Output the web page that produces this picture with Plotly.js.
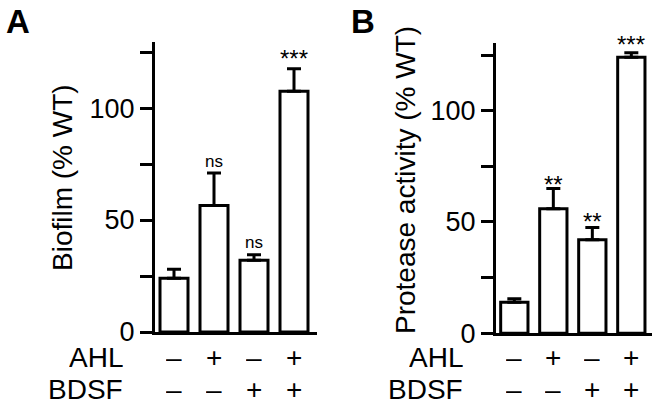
<!DOCTYPE html>
<html>
<head>
<meta charset="utf-8">
<script src="https://cdn.plot.ly/plotly-3.0.1.min.js"></script>
<style>html,body{margin:0;padding:0;background:#fff;}#chart{width:662px;height:408px;}</style>
</head>
<body>
<div id="chart"></div>
<script>
// ---- data ----
const groups = ['g1', 'g2', 'g3', 'g4'];
const ahl = ['\u2013', '+', '\u2013', '+'];
const bdsf = ['\u2013', '\u2013', '+', '+'];
const biofilm = [24, 56.5, 32, 107.5];
const biofilmErr = [4, 14.5, 2.5, 10];
const biofilmSig = ['', 'ns', 'ns', '***'];
const protease = [14, 56, 42, 124];
const proteaseErr = [1.5, 9, 5.5, 2];
const proteaseSig = ['', '**', '**', '***'];
const yTicks = [0, 25, 50, 75, 100, 125];
const yTickText = ['0', '', '50', '', '100', ''];

const FONT = 'Liberation Sans, Arial, sans-serif';
const W = 662, H = 408;
const px = v => v / W;
const py = v => (H - v) / H;

function barTrace(y, err, xa, ya) {
  return {
    type: 'bar', x: groups, y: y, xaxis: xa, yaxis: ya,
    width: 0.7,
    marker: {color: '#ffffff', line: {color: '#000000', width: 3}},
    error_y: {type: 'data', symmetric: false, array: err, arrayminus: err.map(() => 0),
              color: '#000000', thickness: 3, width: 7},
    showlegend: false, hoverinfo: 'skip'
  };
}

const yax = (domain, range) => ({
  domain: domain, range: range, showline: true, linewidth: 3, linecolor: '#000',
  ticks: 'outside', ticklen: 12, tickwidth: 3, tickcolor: '#000',
  tickvals: yTicks, ticktext: yTickText, showgrid: false, zeroline: false,
  tickfont: {family: FONT, size: 27, color: '#000'}, ticklabelstandoff: 0, fixedrange: true
});
const xax = (domain, range) => ({
  domain: domain, range: range, type: 'category', showline: true, linewidth: 3, linecolor: '#000',
  ticks: '', showticklabels: false, showgrid: false, zeroline: false, fixedrange: true
});

const annotations = [];
const rowFont = {family: FONT, size: 28, color: '#000'};
function addPanel(xref, sig, sigY, labelRightPx, titleText, titleX, titleY, letter, letterX) {
  groups.forEach((g, i) => {
    annotations.push({xref: xref, yref: 'paper', x: g, y: py(357), text: ahl[i], showarrow: false,
      xanchor: 'center', yanchor: 'middle', height: 28, font: rowFont});
    annotations.push({xref: xref, yref: 'paper', x: g, y: py(389), text: bdsf[i], showarrow: false,
      xanchor: 'center', yanchor: 'middle', height: 28, font: rowFont});
    if (sig[i]) {
      const isStar = sig[i].indexOf('*') >= 0;
      annotations.push({xref: xref, yref: xref === 'x' ? 'y' : 'y2', x: g, y: sigY[i], text: sig[i],
        showarrow: false, xanchor: 'center', yanchor: 'middle',
        font: {family: FONT, size: isStar ? 24 : 17, color: '#000'}});
    }
  });
  annotations.push({xref: 'paper', yref: 'paper', x: px(labelRightPx), y: py(357), text: 'AHL', showarrow: false,
    xanchor: 'right', yanchor: 'middle', height: 28, font: rowFont});
  annotations.push({xref: 'paper', yref: 'paper', x: px(labelRightPx), y: py(389), text: 'BDSF', showarrow: false,
    xanchor: 'right', yanchor: 'middle', height: 28, font: rowFont});
  annotations.push({xref: 'paper', yref: 'paper', x: px(titleX), y: py(titleY), text: titleText, showarrow: false,
    textangle: -90, xanchor: 'center', yanchor: 'middle', font: {family: FONT, size: 28, color: '#000'}});
  annotations.push({xref: 'paper', yref: 'paper', x: px(letterX), y: py(21), text: '<b>' + letter + '</b>', showarrow: false,
    xanchor: 'left', yanchor: 'middle', font: {family: FONT, size: 33, color: '#000'}});
}

addPanel('x', biofilmSig, [0, 76, 40, 122], 125, 'Biofilm (% WT)', 62, 178, 'A', 4);
addPanel('x2', proteaseSig, [0, 67, 50, 129.5], 465, 'Protease activity (% WT)', 405, 180, 'B', 349);

const layout = {
  width: W, height: H,
  margin: {l: 0, r: 0, t: 0, b: 0},
  paper_bgcolor: '#fff', plot_bgcolor: '#fff',
  bargap: 0.3,
  xaxis: Object.assign(xax([px(155), px(317)], [-0.475, 3.575]), {anchor: 'y'}),
  yaxis: Object.assign(yax([py(332), py(42)], [0, 129.5]), {anchor: 'x'}),
  xaxis2: Object.assign(xax([px(496), px(652)], [-0.47, 3.53]), {anchor: 'y2'}),
  yaxis2: Object.assign(yax([py(333.3), py(43)], [0, 130.4]), {anchor: 'x2'}),
  annotations: annotations
};

Plotly.newPlot('chart', [
  barTrace(biofilm, biofilmErr, 'x', 'y'),
  barTrace(protease, proteaseErr, 'x2', 'y2')
], layout, {displayModeBar: false, staticPlot: true});
</script>
</body>
</html>
